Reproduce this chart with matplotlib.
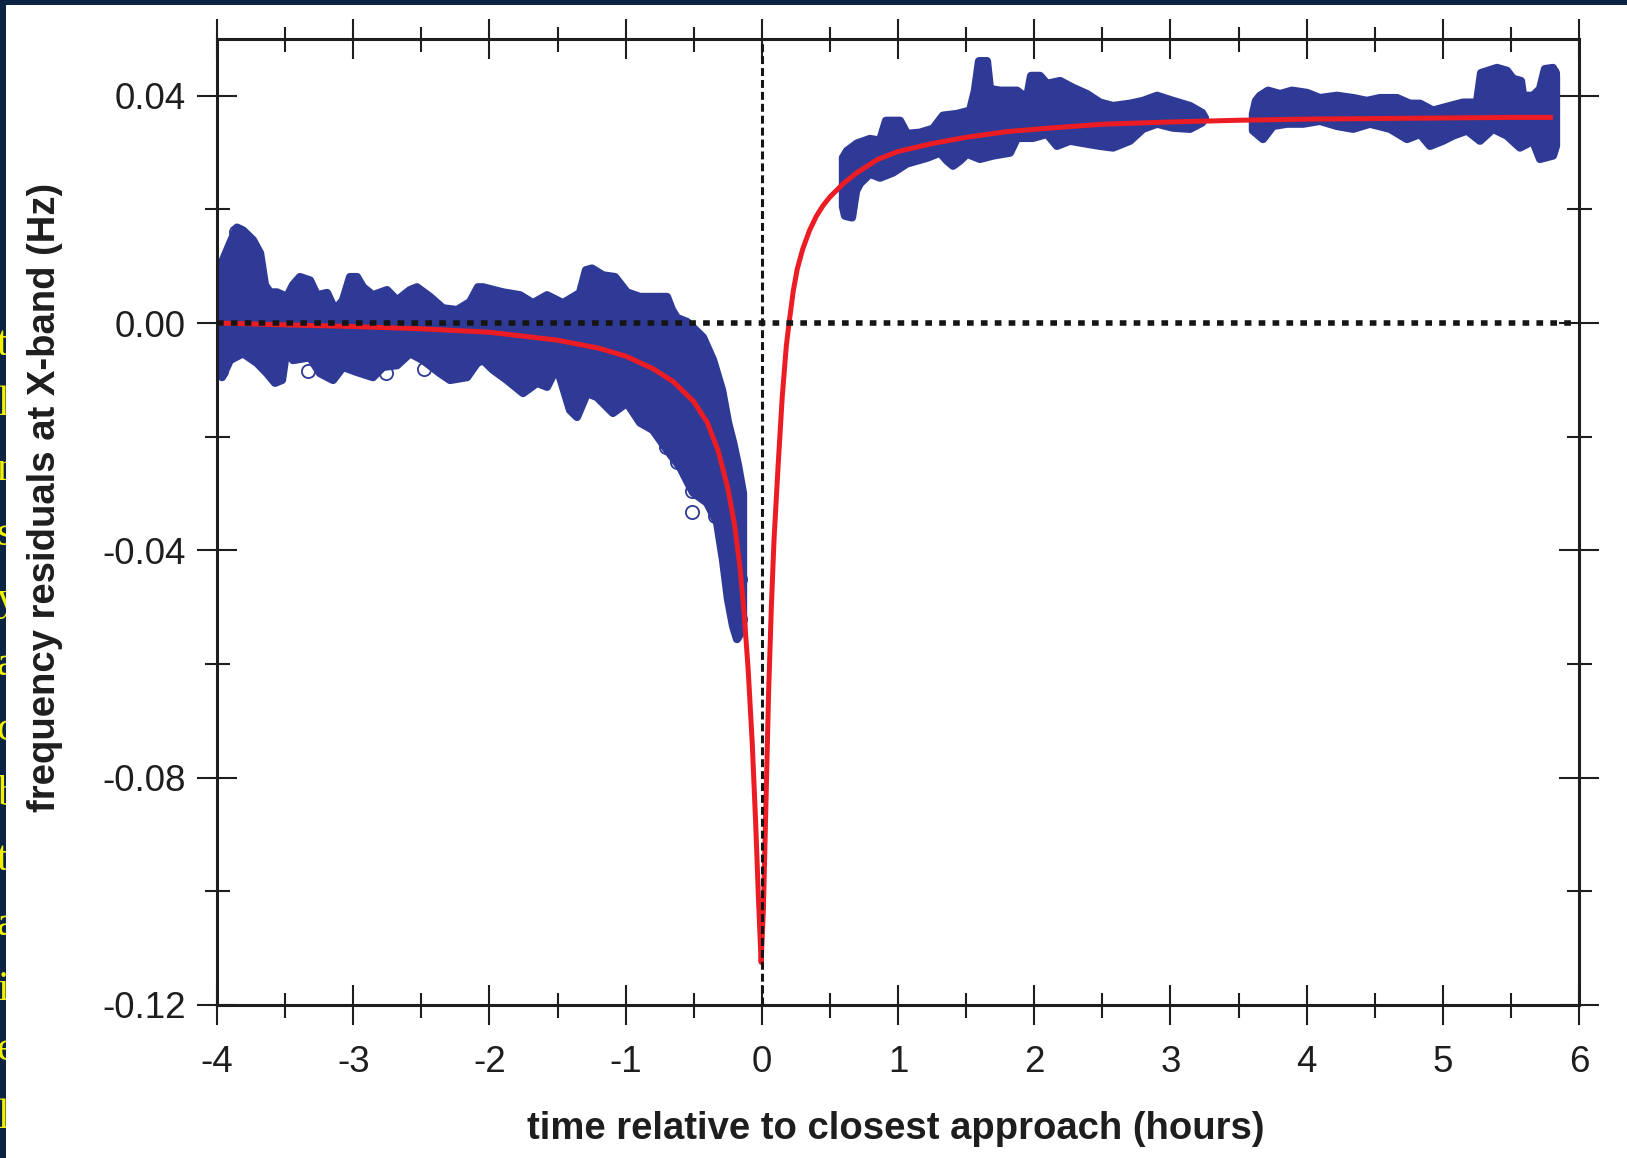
import numpy as np
import matplotlib.pyplot as plt
from matplotlib.patches import Rectangle
from matplotlib.ticker import MultipleLocator, FormatStrFormatter

plt.rcParams['font.family'] = ['Liberation Sans', 'DejaVu Sans']
plt.rcParams['axes.unicode_minus'] = False

BLUE = '#2e3a95'
RED = '#ec1c24'
INK = '#1e1e1e'

# residual cloud before closest approach (hours, Hz): upper / lower envelope
pre_top_t = [-3.99, -3.978, -3.905, -3.853, -3.809, -3.736, -3.684, -3.648, -3.611, -3.559,
             -3.486, -3.442, -3.391, -3.317, -3.266, -3.192, -3.134, -3.075, -3.023, -2.972,
             -2.928, -2.855, -2.752, -2.678, -2.583, -2.532, -2.436, -2.341, -2.238, -2.142,
             -2.084, -2.047, -1.900, -1.775, -1.680, -1.577, -1.460, -1.335, -1.291, -1.247,
             -1.166, -1.078, -0.990, -0.894, -0.784, -0.696, -0.659, -0.623, -0.549, -0.432,
             -0.358, -0.292, -0.248, -0.211, -0.175, -0.138]
pre_top_v = [0.0084, 0.0098, 0.0140, 0.0168, 0.0163, 0.0146, 0.0123, 0.0067, 0.0054, 0.0054,
             0.0046, 0.0067, 0.0081, 0.0075, 0.0049, 0.0053, 0.0023, 0.0040, 0.0081, 0.0081,
             0.0063, 0.0049, 0.0058, 0.0040, 0.0058, 0.0063, 0.0046, 0.0026, 0.0023, 0.0037,
             0.0063, 0.0063, 0.0054, 0.0049, 0.0035, 0.0049, 0.0035, 0.0053, 0.0093, 0.0096,
             0.0084, 0.0081, 0.0054, 0.0046, 0.0046, 0.0046, 0.0023, 0.0009, 0.0002, -0.0025,
             -0.0065, -0.0118, -0.0175, -0.0210, -0.0250, -0.0300]
pre_bot_t = [-3.99, -3.963, -3.905, -3.809, -3.706, -3.633, -3.574, -3.523, -3.486, -3.442,
             -3.317, -3.244, -3.148, -3.075, -2.972, -2.855, -2.781, -2.678, -2.583, -2.488,
             -2.363, -2.289, -2.164, -2.091, -2.047, -1.974, -1.871, -1.753, -1.650, -1.577,
             -1.504, -1.408, -1.357, -1.283, -1.210, -1.093, -0.990, -0.894, -0.799, -0.696,
             -0.601, -0.505, -0.402, -0.328, -0.285, -0.248, -0.211, -0.182, -0.138]
pre_bot_v = [-0.0082, -0.0095, -0.0065, -0.0053, -0.0070, -0.0088, -0.0105, -0.0100, -0.0039, -0.0065,
             -0.0060, -0.0088, -0.0100, -0.0077, -0.0086, -0.0095, -0.0077, -0.0074, -0.0053, -0.0065,
             -0.0088, -0.0100, -0.0095, -0.0070, -0.0065, -0.0082, -0.0100, -0.0123, -0.0105, -0.0112,
             -0.0077, -0.0153, -0.0165, -0.0123, -0.0130, -0.0158, -0.0140, -0.0175, -0.0188, -0.0223,
             -0.0253, -0.0298, -0.0316, -0.0351, -0.0416, -0.0486, -0.0533, -0.0556, -0.0538]

# after closest approach, first pass
postA_top_t = [0.596, 0.626, 0.699, 0.794, 0.868, 0.912, 1.015, 1.066, 1.161, 1.257,
               1.330, 1.433, 1.529, 1.565, 1.595, 1.653, 1.675, 1.749, 1.874, 1.947,
               1.977, 2.043, 2.094, 2.190, 2.285, 2.388, 2.483, 2.579, 2.703, 2.799,
               2.902, 3.019, 3.144, 3.232, 3.254]
postA_top_v = [0.0291, 0.0303, 0.0316, 0.0324, 0.0321, 0.0356, 0.0356, 0.0333, 0.0335, 0.0342,
               0.0365, 0.0368, 0.0374, 0.0409, 0.0461, 0.0461, 0.0412, 0.0409, 0.0409, 0.0396,
               0.0435, 0.0435, 0.0421, 0.0426, 0.0414, 0.0403, 0.0388, 0.0382, 0.0386, 0.0391,
               0.0400, 0.0391, 0.0382, 0.0370, 0.0361]
postA_bot_t = [0.596, 0.611, 0.662, 0.692, 0.721, 0.794, 0.868, 0.963, 1.066, 1.213,
               1.308, 1.360, 1.404, 1.455, 1.507, 1.602, 1.698, 1.822, 1.874, 1.991,
               2.094, 2.167, 2.263, 2.358, 2.483, 2.579, 2.703, 2.799, 2.902, 3.019,
               3.144, 3.232, 3.254]
postA_bot_v = [0.0205, 0.0189, 0.0186, 0.0233, 0.0246, 0.0263, 0.0256, 0.0265, 0.0281, 0.0291,
               0.0300, 0.0286, 0.0277, 0.0286, 0.0298, 0.0289, 0.0295, 0.0300, 0.0326, 0.0326,
               0.0333, 0.0312, 0.0321, 0.0317, 0.0312, 0.0309, 0.0321, 0.0342, 0.0351, 0.0344,
               0.0342, 0.0353, 0.0361]

# after closest approach, second pass
postB_top_t = [3.606, 3.628, 3.658, 3.717, 3.805, 3.893, 4.003, 4.098, 4.223, 4.341,
               4.443, 4.539, 4.664, 4.759, 4.833, 4.928, 5.053, 5.148, 5.251, 5.281,
               5.398, 5.471, 5.515, 5.574, 5.589, 5.662, 5.714, 5.750, 5.809, 5.831]
postB_top_v = [0.0368, 0.0391, 0.0400, 0.0409, 0.0403, 0.0409, 0.0405, 0.0396, 0.0400, 0.0396,
               0.0391, 0.0396, 0.0396, 0.0386, 0.0386, 0.0374, 0.0382, 0.0388, 0.0388, 0.0440,
               0.0449, 0.0444, 0.0430, 0.0426, 0.0400, 0.0400, 0.0412, 0.0447, 0.0449, 0.0435]
postB_bot_t = [3.606, 3.680, 3.753, 3.856, 3.974, 4.098, 4.223, 4.341, 4.465, 4.612,
               4.737, 4.833, 4.906, 5.001, 5.075, 5.178, 5.273, 5.369, 5.471, 5.567,
               5.662, 5.714, 5.809, 5.831]
postB_bot_v = [0.0339, 0.0324, 0.0347, 0.0351, 0.0351, 0.0356, 0.0347, 0.0342, 0.0351, 0.0342,
               0.0324, 0.0333, 0.0312, 0.0321, 0.0330, 0.0339, 0.0321, 0.0342, 0.0330, 0.0309,
               0.0321, 0.0289, 0.0295, 0.0312]

# isolated residual points standing off the main cloud
loose_t = [-3.86, -3.83, -3.97, -3.96, -3.33, -2.76, -2.48, -2.35, -0.70, -0.62,
           -0.51, -0.51, -0.34, -0.34, -0.16, -0.16, 1.62, 1.62, 5.80, 0.63]
loose_v = [0.0160, 0.0150, -0.0085, -0.0072, -0.0085, -0.0088, -0.0080, -0.0080, -0.0218, -0.0244,
           -0.0296, -0.0333, -0.0340, -0.0310, -0.0450, -0.0520, 0.0455, 0.0440, 0.0440, 0.0195]

# fitted model
fit_t = [-3.98, -3.5, -3.0, -2.5, -2.0, -1.5, -1.2, -1.0, -0.8, -0.65,
         -0.5, -0.4, -0.32, -0.25, -0.2, -0.16, -0.13, -0.1, -0.07, -0.045,
         -0.025, -0.005, 0.012, 0.03, 0.05, 0.07, 0.09, 0.12, 0.15, 0.18,
         0.2, 0.23, 0.26, 0.3, 0.35, 0.4, 0.45, 0.5, 0.6, 0.7,
         0.85, 1.0, 1.25, 1.5, 1.8, 2.1, 2.5, 3.0, 3.5, 4.0,
         4.5, 5.0, 5.5, 5.79]
fit_v = [0.0, -0.0003, -0.0006, -0.0010, -0.0016, -0.0030, -0.0044, -0.0058, -0.0080, -0.0103,
         -0.0138, -0.0175, -0.0225, -0.0290, -0.0355, -0.0430, -0.0510, -0.0610, -0.0740, -0.0880,
         -0.1010, -0.1125, -0.1030, -0.0850, -0.0650, -0.0500, -0.0380, -0.0250, -0.0130, -0.0040,
         0.0000, 0.0055, 0.0095, 0.0130, 0.0163, 0.0188, 0.0207, 0.0222, 0.0246, 0.0265,
         0.0288, 0.0302, 0.0316, 0.0327, 0.0337, 0.0343, 0.0350, 0.0354, 0.0357, 0.0359,
         0.0360, 0.0361, 0.0362, 0.0362]

x_ticks = [-4, -3, -2, -1, 0, 1, 2, 3, 4, 5, 6]
y_ticks = [-0.12, -0.08, -0.04, 0.00, 0.04]

# slide text running under the figure on the left
slide_bits = ['t', 'l', 'n', 's', 'y', 'a', 'c', 'b', 't', 'a', 'i', 'e', 'l']
slide_rows = [345, 405, 470, 535, 600, 665, 730, 795, 860, 925, 990, 1050, 1118]


def band(ax, top_t, top_v, bot_t, bot_v):
    xs = np.r_[top_t, bot_t[::-1]]
    ys = np.r_[top_v, bot_v[::-1]]
    patch, = ax.fill(xs, ys, facecolor=BLUE, edgecolor=BLUE, lw=6, zorder=2)
    patch.set_joinstyle('round')


def main():
    W, H = 1627, 1158
    fig = plt.figure(figsize=(W / 100, H / 100), dpi=100, facecolor='#0d2343')

    for ch, row in zip(slide_bits, slide_rows):
        fig.text(-0.002, 1 - row / H, ch, color='#f2f200', fontsize=30,
                 family='Liberation Serif', ha='left', va='center', zorder=-2)
    fig.add_artist(Rectangle((6 / W, 0), 1 - 6 / W, 1 - 5 / H, transform=fig.transFigure,
                             facecolor='white', edgecolor='none', zorder=-1))

    ax = fig.add_axes([217 / W, 153 / H, 1362 / W, 966 / H])
    ax.set_xlim(-4, 6)
    ax.set_ylim(-0.12, 0.05)

    band(ax, pre_top_t, pre_top_v, pre_bot_t, pre_bot_v)
    band(ax, postA_top_t, postA_top_v, postA_bot_t, postA_bot_v)
    band(ax, postB_top_t, postB_top_v, postB_bot_t, postB_bot_v)
    ax.plot(loose_t, loose_v, 'o', mfc='none', mec=BLUE, ms=9.5, mew=1.3, zorder=2.1)

    ax.plot(fit_t, fit_v, color=RED, lw=3.6, solid_joinstyle='round', zorder=3)

    ax.axhline(0, color='#151515', lw=4, dashes=(1.2, 1.3), zorder=4)
    ax.axvline(0, color='#151515', lw=2.2, dashes=(2.6, 1.3), zorder=4)

    for sp in ax.spines.values():
        sp.set_linewidth(2.2)
        sp.set_color(INK)

    ax.set_xticks(x_ticks)
    ax.set_yticks(y_ticks)
    ax.xaxis.set_minor_locator(MultipleLocator(0.5))
    ax.yaxis.set_minor_locator(MultipleLocator(0.02))
    ax.xaxis.set_major_formatter(FormatStrFormatter('%d'))
    ax.yaxis.set_major_formatter(FormatStrFormatter('%.2f'))
    ax.tick_params(which='major', direction='inout', length=29, width=1.5,
                   top=True, right=True, colors=INK, labelsize=26.5)
    ax.tick_params(which='minor', direction='inout', length=18, width=1.5,
                   top=True, right=True, colors=INK)
    ax.tick_params(axis='x', which='major', pad=14)
    ax.tick_params(axis='y', which='major', pad=8)

    ax.set_xlabel('time relative to closest approach (hours)', fontsize=27.5,
                  fontweight='bold', color=INK)
    ax.xaxis.set_label_coords(0.498, -0.128)
    ax.xaxis.label.set_va('center')
    ax.set_ylabel('frequency residuals at X-band (Hz)', fontsize=27.5,
                  fontweight='bold', color=INK)
    ax.yaxis.set_label_coords(-0.126, 0.525)
    ax.yaxis.label.set_va('center')
    ax.yaxis.label.set_ha('center')

    fig.savefig('out.png', dpi=100, facecolor=fig.get_facecolor())


if __name__ == '__main__':
    main()
